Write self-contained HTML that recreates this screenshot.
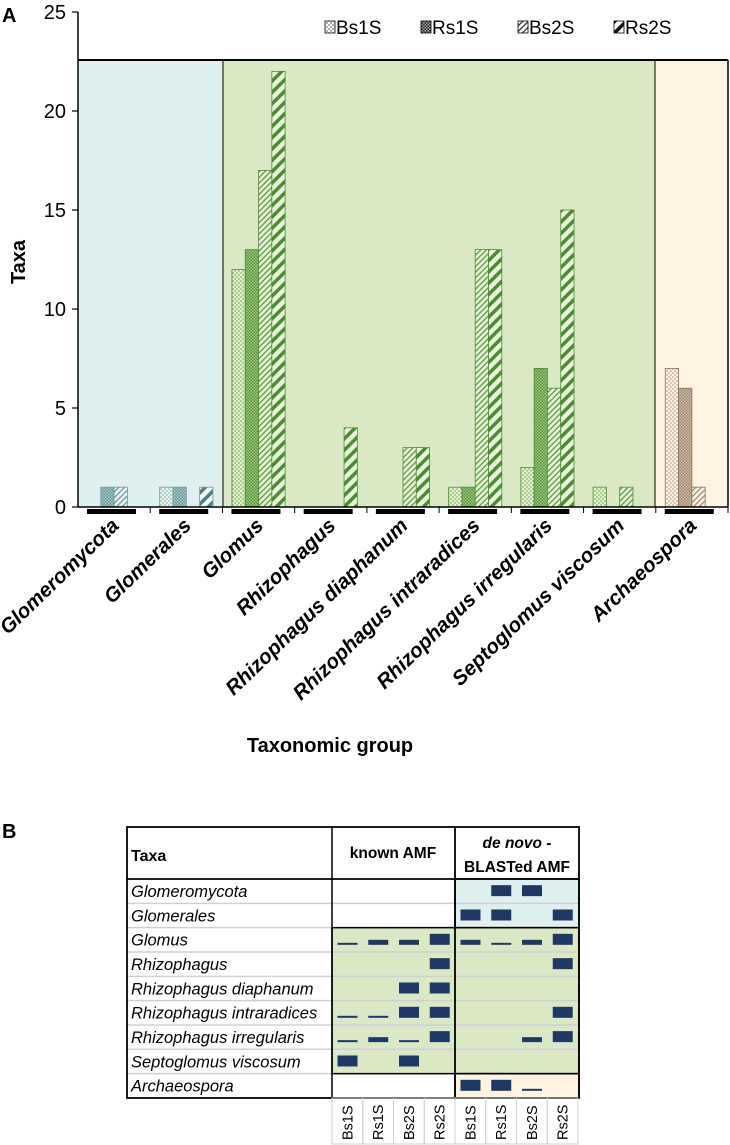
<!DOCTYPE html>
<html><head><meta charset="utf-8"><style>
body{margin:0;background:#fff;width:730px;height:1145px;overflow:hidden;font-family:"Liberation Sans",sans-serif}
svg{position:absolute;left:0;top:0}
</style></head><body>
<svg id="chart" width="730" height="790" viewBox="0 0 730 790">
<defs>
<pattern id="dots-g" width="4" height="4" patternUnits="userSpaceOnUse"><rect width="4" height="4" fill="#e3efcf"/><circle cx="1" cy="1" r="0.7" fill="#5a9a3c"/><circle cx="3" cy="3" r="0.7" fill="#5a9a3c"/></pattern>
<pattern id="grid-g" width="3" height="3" patternUnits="userSpaceOnUse"><rect width="3" height="3" fill="#9cc27e"/><rect width="1.5" height="1.5" fill="#5a9a3c"/><rect x="1.5" y="1.5" width="1.5" height="1.5" fill="#5a9a3c"/></pattern>
<pattern id="lh-g" width="4" height="4" patternUnits="userSpaceOnUse" patternTransform="rotate(45)"><rect width="4" height="4" fill="#e8f2da"/><rect width="1.3" height="4" fill="#5a9a3c"/></pattern>
<pattern id="wh-g" width="8" height="8" patternUnits="userSpaceOnUse" patternTransform="rotate(45)"><rect width="8" height="8" fill="#e8f2da"/><rect width="3.5" height="8" fill="#4e8c34"/></pattern>
<pattern id="dots-b" width="4" height="4" patternUnits="userSpaceOnUse"><rect width="4" height="4" fill="#e6f3f2"/><circle cx="1" cy="1" r="0.7" fill="#6b9a9a"/><circle cx="3" cy="3" r="0.7" fill="#6b9a9a"/></pattern>
<pattern id="grid-b" width="3" height="3" patternUnits="userSpaceOnUse"><rect width="3" height="3" fill="#a9c7c5"/><rect width="1.5" height="1.5" fill="#6b9a9a"/><rect x="1.5" y="1.5" width="1.5" height="1.5" fill="#6b9a9a"/></pattern>
<pattern id="lh-b" width="4" height="4" patternUnits="userSpaceOnUse" patternTransform="rotate(45)"><rect width="4" height="4" fill="#eef6f5"/><rect width="1.3" height="4" fill="#6b9a9a"/></pattern>
<pattern id="wh-b" width="8" height="8" patternUnits="userSpaceOnUse" patternTransform="rotate(45)"><rect width="8" height="8" fill="#eef6f5"/><rect width="3.5" height="8" fill="#4e7e80"/></pattern>
<pattern id="dots-o" width="4" height="4" patternUnits="userSpaceOnUse"><rect width="4" height="4" fill="#fbf1e2"/><circle cx="1" cy="1" r="0.7" fill="#a38b72"/><circle cx="3" cy="3" r="0.7" fill="#a38b72"/></pattern>
<pattern id="grid-o" width="3" height="3" patternUnits="userSpaceOnUse"><rect width="3" height="3" fill="#cbb9a4"/><rect width="1.5" height="1.5" fill="#a38b72"/><rect x="1.5" y="1.5" width="1.5" height="1.5" fill="#a38b72"/></pattern>
<pattern id="lh-o" width="4" height="4" patternUnits="userSpaceOnUse" patternTransform="rotate(45)"><rect width="4" height="4" fill="#fbf4ea"/><rect width="1.3" height="4" fill="#a38b72"/></pattern>
<pattern id="wh-o" width="8" height="8" patternUnits="userSpaceOnUse" patternTransform="rotate(45)"><rect width="8" height="8" fill="#fbf4ea"/><rect width="3.5" height="8" fill="#8a7058"/></pattern>
<pattern id="lg-dots" width="4" height="4" patternUnits="userSpaceOnUse"><rect width="4" height="4" fill="#fff"/><circle cx="1" cy="1" r="0.7" fill="#333"/><circle cx="3" cy="3" r="0.7" fill="#333"/></pattern>
<pattern id="lg-grid" width="3" height="3" patternUnits="userSpaceOnUse"><rect width="3" height="3" fill="#999"/><rect width="1.5" height="1.5" fill="#333"/><rect x="1.5" y="1.5" width="1.5" height="1.5" fill="#333"/></pattern>
<pattern id="lg-lh" width="4" height="4" patternUnits="userSpaceOnUse" patternTransform="rotate(45)"><rect width="4" height="4" fill="#fff"/><rect width="1.3" height="4" fill="#333"/></pattern>
<pattern id="lg-wh" width="8" height="8" patternUnits="userSpaceOnUse" patternTransform="rotate(45)"><rect width="8" height="8" fill="#fff"/><rect width="3.5" height="8" fill="#111"/></pattern>
</defs>
<text x="2" y="22" font-size="20" font-weight="bold">A</text>
<rect x="78" y="60" width="145" height="447" fill="#dff0ee"/>
<rect x="223" y="60" width="432" height="447" fill="#dbe8c6"/>
<rect x="655" y="60" width="73" height="447" fill="#fdf3e0"/>
<g id="bars"></g>
<line x1="78" y1="60" x2="728" y2="60" stroke="#000" stroke-width="2"/>
<line x1="223" y1="60" x2="223" y2="507" stroke="#000" stroke-width="1"/>
<line x1="655" y1="60" x2="655" y2="507" stroke="#000" stroke-width="1"/>
<line x1="728" y1="60" x2="728" y2="507" stroke="#000" stroke-width="1.5"/>
<line x1="78" y1="12" x2="78" y2="507" stroke="#000" stroke-width="1.5"/>
<line x1="78" y1="507" x2="728" y2="507" stroke="#000" stroke-width="1.5"/>
<g id="yticks"></g>
<g id="xlabels"></g>
<text transform="translate(25,262) rotate(-90)" text-anchor="middle" font-size="20" font-weight="bold">Taxa</text>
<text x="330" y="752" text-anchor="middle" font-size="20" font-weight="bold">Taxonomic group</text>
<g id="legend" font-size="19"></g>
</svg>
<svg id="table" width="730" height="1145" viewBox="0 0 730 1145" style="pointer-events:none">
<text x="2" y="838" font-size="20" font-weight="bold">B</text>
<g id="tbl"></g>
</svg>
<script>
const categories=["Glomeromycota","Glomerales","Glomus","Rhizophagus","Rhizophagus diaphanum","Rhizophagus intraradices","Rhizophagus irregularis","Septoglomus viscosum","Archaeospora"];
const seriesNames=["Bs1S","Rs1S","Bs2S","Rs2S"];
const bs1s=[0,1,12,0,0,1,2,1,7];
const rs1s=[1,1,13,0,0,1,7,0,6];
const bs2s=[1,0,17,0,3,13,6,1,1];
const rs2s=[0,1,22,4,3,13,15,0,0];
const regionOf=["b","b","g","g","g","g","g","g","o"];
const yTicks=[0,5,10,15,20,25];
const NS="http://www.w3.org/2000/svg";
const x0=78,x1=728,yBase=507,yTop=12,yMax=25;
const gw=(x1-x0)/categories.length;
function yScale(v){return yBase-(v/yMax)*(yBase-yTop);}
function xGroup(i){return x0+i*gw;}
function mk(tag,attrs,parent){const e=document.createElementNS(NS,tag);for(const k in attrs)e.setAttribute(k,attrs[k]);parent.appendChild(e);return e;}
const series=[bs1s,rs1s,bs2s,rs2s];
const pats=["dots","grid","lh","wh"];
const strokeCol={b:"#6b9a9a",g:"#4e8c34",o:"#8a7058"};
const barsG=document.getElementById("bars");
const bw=13.3;
series.forEach((arr,s)=>{arr.forEach((v,i)=>{if(!v)return;const r=regionOf[i];
const el=mk("rect",{x:xGroup(i)+9.5+s*bw,y:yScale(v),width:bw,height:yBase-yScale(v),fill:"url(#"+pats[s]+"-"+r+")",stroke:strokeCol[r],"stroke-width":0.8},barsG);

});});
const yt=document.getElementById("yticks");
yTicks.forEach(t=>{const y=yScale(t);mk("line",{x1:72,y1:y,x2:78,y2:y,stroke:"#000","stroke-width":1.2},yt);
const tx=mk("text",{x:66,y:y+7,"text-anchor":"end","font-size":20},yt);tx.textContent=t;

});
const xl=document.getElementById("xlabels");
categories.forEach((c,i)=>{const gx=xGroup(i);
mk("line",{x1:gx+gw,y1:507,x2:gx+gw,y2:513,stroke:"#000","stroke-width":1},xl);
const b=mk("rect",{x:gx+9,y:509,width:49,height:5,fill:"#000"},xl);


const t=mk("text",{transform:"translate("+(gx+gw/2+6)+",527) rotate(-44)","text-anchor":"end","font-size":20.5,"font-weight":"bold","font-style":"italic"},xl);t.textContent=c;

});
const lg=document.getElementById("legend");
const lgx=[325,421,518,614];const lgp=["lg-dots","lg-grid","lg-lh","lg-wh"];
seriesNames.forEach((n,s)=>{const g=mk("g",{},lg);


mk("rect",{x:lgx[s],y:21,width:10,height:12,fill:"url(#"+lgp[s]+")",stroke:"#000","stroke-width":0.8},g);
const t=mk("text",{x:lgx[s]+11,y:34},g);t.textContent=n;});
// table
const rowsTax=["Glomeromycota","Glomerales","Glomus","Rhizophagus","Rhizophagus diaphanum","Rhizophagus intraradices","Rhizophagus irregularis","Septoglomus viscosum","Archaeospora"];
const knownLv=[[0,0,0,0],[0,0,0,0],[1,2,2,3],[0,0,0,3],[0,0,3,3],[1,1,3,3],[1,2,1,3],[3,0,3,0],[0,0,0,0]];
const denovoLv=[[0,3,3,0],[3,3,0,3],[2,1,2,3],[0,0,0,3],[0,0,0,0],[0,0,0,3],[0,0,2,3],[0,0,0,0],[3,3,1,0]];
const T=document.getElementById("tbl");
const tL=127,tR=579,c1=332,c2=455,tTop=827,hB=879,rh=24.33,cw=30.75;
const rowY=i=>hB+i*rh;
mk("rect",{x:c2,y:rowY(0),width:tR-c2,height:2*rh,fill:"#dff0ee"},T);
mk("rect",{x:c1,y:rowY(2),width:tR-c1,height:6*rh,fill:"#dbe8c6"},T);
mk("rect",{x:c2,y:rowY(8),width:tR-c2,height:rh,fill:"#fdf3e0"},T);
for(let i=1;i<9;i++)mk("line",{x1:tL,y1:rowY(i),x2:tR,y2:rowY(i),stroke:"#d0d0d0","stroke-width":1.5},T);
rowsTax.forEach((r,i)=>{const t=mk("text",{x:131,y:rowY(i)+18,"font-size":16.5,"font-style":"italic"},T);t.textContent=r;

});
const hts=[0,2,5,11];
function marks(lv,cx0,pre){lv.forEach((row,i)=>row.forEach((v,j)=>{if(!v)return;const h=hts[v];
const m=mk("rect",{x:cx0+j*cw+5.5,y:rowY(i)+rh/2+5-h,width:20,height:h,fill:"#1f3864"},T);

}));}
marks(knownLv,c1,"known");marks(denovoLv,c2,"denovo");
mk("rect",{x:tL,y:tTop,width:tR-tL,height:rowY(9)-tTop,fill:"none",stroke:"#000","stroke-width":1.8},T);
mk("line",{x1:tL,y1:hB,x2:tR,y2:hB,stroke:"#000","stroke-width":1.8},T);
mk("line",{x1:c1,y1:tTop,x2:c1,y2:rowY(9),stroke:"#000","stroke-width":1.5},T);
mk("line",{x1:c2,y1:tTop,x2:c2,y2:rowY(9),stroke:"#000","stroke-width":1.8},T);
mk("rect",{x:c2,y:rowY(0),width:tR-c2,height:2*rh,fill:"none",stroke:"#000","stroke-width":1.5},T);
mk("rect",{x:c1,y:rowY(2),width:tR-c1,height:6*rh,fill:"none",stroke:"#000","stroke-width":1.5},T);
mk("rect",{x:c2,y:rowY(8),width:tR-c2,height:rh,fill:"none",stroke:"#000","stroke-width":1.5},T);
function txt(s,a){const t=mk("text",a,T);t.textContent=s;return t;}
let h1=txt("Taxa",{x:131,y:861,"font-size":16,"font-weight":"bold"});

let h2=txt("known AMF",{x:393,y:858,"text-anchor":"middle","font-size":15.5,"font-weight":"bold"});

let h3=txt("de novo  -",{x:517,y:848,"text-anchor":"middle","font-size":15.5,"font-weight":"bold","font-style":"italic"});

txt("BLASTed AMF",{x:517,y:872,"text-anchor":"middle","font-size":15.5,"font-weight":"bold"});
const colNames=["Bs1S","Rs1S","Bs2S","Rs2S","Bs1S","Rs1S","Bs2S","Rs2S"];
const cyT=rowY(9);
colNames.forEach((n,k)=>{const cx=c1+k*cw;
mk("rect",{x:cx,y:cyT,width:cw,height:1145-cyT-1,fill:"none",stroke:"#d0d0d0","stroke-width":1},T);
const t=txt(n,{transform:"translate("+(cx+cw/2+5)+","+(1140)+") rotate(-90)","font-size":14.5});

});
</script>
</body></html>
